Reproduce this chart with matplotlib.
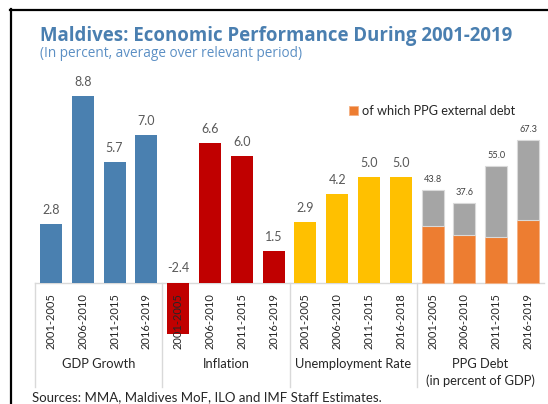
import matplotlib
matplotlib.use("Agg")
import matplotlib.pyplot as plt
from matplotlib.transforms import blended_transform_factory
from matplotlib.lines import Line2D

plt.rcParams['font.family'] = ['Lato', 'DejaVu Sans']

# ---- data -------------------------------------------------------------
groups = ["GDP Growth", "Inflation", "Unemployment Rate", "PPG Debt\n(in percent of GDP)"]
periods_gdp = ["2001-2005", "2006-2010", "2011-2015", "2016-2019"]
periods_inf = ["2001-2005", "2006-2010", "2011-2015", "2016-2019"]
periods_unemp = ["2001-2005", "2006-2010", "2011-2015", "2016-2018"]
periods_debt = ["2001-2005", "2006-2010", "2011-2015", "2016-2019"]

gdp_growth = [2.8, 8.8, 5.7, 7.0]
inflation = [-2.4, 6.6, 6.0, 1.5]
unemployment = [2.9, 4.2, 5.0, 5.0]
ppg_debt_total = [43.8, 37.6, 55.0, 67.3]
ppg_debt_external = [27.0, 22.6, 21.8, 29.9]

# ---- styling ----------------------------------------------------------
C_BLUE = "#4A80B0"
C_RED = "#C00000"
C_YELLOW = "#FFC000"
C_ORANGE = "#ED7D31"
C_GRAY = "#A5A5A5"
C_LINE = "#D9D9D9"
C_LABEL = "#595959"
TITLE_BLUE = "#4A7FB0"
SUB_BLUE = "#5B8FC4"

W, H = 548, 404
fig = plt.figure(figsize=(W / 100, H / 100), dpi=100)


def fx(px):
    return px / W


def fy(py):
    return 1 - py / H


# outer frame (top and left rules)
fig.add_artist(Line2D([fx(10), fx(548)], [fy(9.5), fy(9.5)], color="black", lw=1.6))
fig.add_artist(Line2D([fx(10.5), fx(10.5)], [fy(9), fy(404)], color="black", lw=1.6))

# titles
fig.text(fx(40), fy(41), "Maldives: Economic Performance During 2001-2019",
         family=["Open Sans", "DejaVu Sans"], fontweight="bold", fontsize=13.4,
         color=TITLE_BLUE, va="baseline", ha="left")
fig.text(fx(40), fy(57), "(In percent, average over relevant period)",
         family=["Open Sans", "DejaVu Sans"], fontsize=9.8,
         color=SUB_BLUE, va="baseline", ha="left")

# axes: baseline at y=283 px, 21.2 px per percentage point
scale = 21.2
y_base = 283
ymin, ymax = -2.6, 9.5
ax_bottom_px = y_base + (-ymin) * scale
ax_top_px = y_base - ymax * scale
left_px, right_px = 35, 544
ax = fig.add_axes([fx(left_px), fy(ax_bottom_px), fx(right_px) - fx(left_px),
                   fy(ax_top_px) - fy(ax_bottom_px)])
ax.set_xlim(-0.5, 15.5)
ax.set_ylim(ymin, ymax)
ax.axis("off")

# debt is on a ten-times scale
ax2 = ax.twinx()
ax2.set_ylim(ymin * 10, ymax * 10)
ax2.set_xlim(-0.5, 15.5)
ax2.axis("off")

bw = 0.69
xs_gdp = [0, 1, 2, 3]
xs_inf = [4, 5, 6, 7]
xs_unemp = [8, 9, 10, 11]
xs_debt = [12, 13, 14, 15]

ax.bar(xs_gdp, gdp_growth, width=bw, color=C_BLUE, zorder=2)
ax.bar(xs_inf, inflation, width=bw, color=C_RED, zorder=2)
ax.bar(xs_unemp, unemployment, width=bw, color=C_YELLOW, zorder=2)

debt_rest = [t - e for t, e in zip(ppg_debt_total, ppg_debt_external)]
ext_bars = ax2.bar(xs_debt, ppg_debt_external, width=bw, color=C_ORANGE,
                   edgecolor="#F4B183", linewidth=0.6, zorder=2,
                   label="of which PPG external debt")
ax2.bar(xs_debt, debt_rest, bottom=ppg_debt_external, width=bw, color=C_GRAY,
        edgecolor="#DADADA", linewidth=0.8, zorder=2)

# value labels
px2pt = 0.72
for xs, vals in [(xs_gdp, gdp_growth), (xs_inf, inflation), (xs_unemp, unemployment)]:
    for x, v in zip(xs, vals):
        ax.annotate(f"{v:.1f}", (x, max(v, 0)), xytext=(0, 14 * px2pt if v >= 0 else 15 * px2pt),
                    textcoords="offset points", ha="center", va="center",
                    fontsize=9, color=C_LABEL, zorder=6)
for x, v in zip(xs_debt, ppg_debt_total):
    ax2.annotate(f"{v:.1f}", (x, v), xytext=(0, 10.5 * px2pt), textcoords="offset points",
                 ha="center", va="center", fontsize=6.6, color="#404040", zorder=6)

# category axis: baseline, separators, labels
ax.plot([-0.5, 15.5], [0, 0], color=C_LINE, lw=1.0, zorder=1, clip_on=False)
tr = blended_transform_factory(ax.transData, fig.transFigure)
for xsep in [-0.5, 3.5, 7.5, 11.5]:
    ax.add_artist(Line2D([xsep, xsep], [fy(y_base), fy(387)], transform=tr,
                         color=C_LINE, lw=1.0, zorder=1, clip_on=False))

all_x = xs_gdp + xs_inf + xs_unemp + xs_debt
all_periods = periods_gdp + periods_inf + periods_unemp + periods_debt
for x, p in zip(all_x, all_periods):
    ax.text(x, fy(293), p, transform=tr, rotation=90, ha="center", va="top",
            fontsize=8.0, color="#262626", zorder=7, clip_on=False)

for i, g in enumerate(groups):
    xc = 4 * i + 1.5
    ax.text(xc, fy(358), g, transform=tr, ha="center", va="top", fontsize=9.3,
            color="#262626", linespacing=1.45, clip_on=False)

# legend
ax2.legend(handles=[ext_bars], loc="center left", bbox_to_anchor=(fx(343), fy(111)),
           bbox_transform=fig.transFigure, frameon=False, fontsize=9.2,
           handlelength=0.65, handleheight=0.65, handletextpad=0.35, borderpad=0,
           labelcolor="#262626")

# source note
fig.text(fx(32), fy(397.5), "Sources: MMA, Maldives MoF, ILO and IMF Staff Estimates.",
         fontsize=9.5, color="#262626", ha="left", va="center")

fig.savefig("out.png", dpi=100)
